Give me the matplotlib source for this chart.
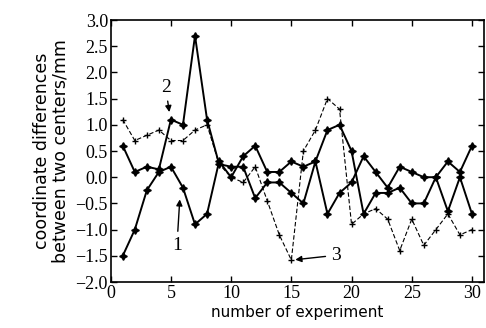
import matplotlib
matplotlib.use('Agg')
import matplotlib.pyplot as plt
import numpy as np

# experiment number
n_exp = np.arange(1, 31)

## curve 1
curve1 = [-1.5, -1.0, -0.25, 0.1, 0.2, -0.2, -0.9, -0.7, 0.3, 0.0,
          0.4, 0.6, 0.1, 0.1, 0.3, 0.2, 0.3, 0.9, 1.0, 0.5,
          -0.7, -0.3, -0.3, -0.2, -0.5, -0.5, 0.0, -0.65, 0.0, -0.7]
## curve 2
curve2 = [0.6, 0.1, 0.2, 0.15, 1.1, 1.0, 2.7, 1.1, 0.25, 0.2,
          0.2, -0.4, -0.1, -0.1, -0.3, -0.5, 0.3, -0.7, -0.3, -0.1,
          0.4, 0.1, -0.2, 0.2, 0.1, 0.0, 0.0, 0.3, 0.1, 0.6]
## curve 3 (dashed)
curve3 = [1.1, 0.7, 0.8, 0.9, 0.7, 0.7, 0.9, 1.0, 0.25, 0.0,
          -0.1, 0.2, -0.45, -1.1, -1.58, 0.5, 0.9, 1.5, 1.3, -0.9,
          -0.7, -0.6, -0.8, -1.4, -0.8, -1.3, -1.0, -0.7, -1.1, -1.0]

serif = 'Liberation Serif'

fig = plt.figure(figsize=(4.86, 3.28), dpi=100)
ax = fig.add_axes([0.2278, 0.1402, 0.7681, 0.7988])

star4 = (4, 1, 0)
ax.plot(n_exp, curve1, color='black', lw=1.4, marker=star4, ms=5.5)
ax.plot(n_exp, curve2, color='black', lw=1.4, marker=star4, ms=5.5)
ax.plot(n_exp, curve3, color='black', lw=0.8, ls=(0, (4, 2)), marker='+', ms=5, mew=1.0)

ax.set_xlim(0, 31)
ax.set_ylim(-2.0, 3.0)
ax.set_xticks(np.arange(0, 31, 5))
yt = np.arange(-2.0, 3.01, 0.5)
ax.set_yticks(yt)
ax.set_yticklabels(['%.1f' % v if v >= 0 else '\u2212%.1f' % abs(v) for v in yt])
ax.tick_params(direction='in', top=True, right=True, length=4, width=1, pad=2)
for lab in ax.get_xticklabels() + ax.get_yticklabels():
    lab.set_family(serif)
    lab.set_fontsize(13)
for s in ax.spines.values():
    s.set_linewidth(1.2)

ax.set_xlabel('number of experiment', fontsize=11, labelpad=2)
ax.set_ylabel('coordinate differences\nbetween two centers/mm', fontsize=12.5, labelpad=4,
              linespacing=1.05)

arr = dict(arrowstyle='-|>', color='black', lw=1.0, mutation_scale=9)
ax.annotate('2', xy=(4.9, 1.19), xytext=(4.56, 1.72), fontsize=14, family=serif,
            ha='center', va='center', arrowprops=arr)
ax.annotate('1', xy=(5.75, -0.37), xytext=(5.5, -1.3), fontsize=14, family=serif,
            ha='center', va='center', arrowprops=arr)
ax.annotate('3', xy=(15.1, -1.58), xytext=(18.7, -1.49), fontsize=14, family=serif,
            ha='center', va='center', arrowprops=arr)

plt.savefig('out.png', dpi=100)
